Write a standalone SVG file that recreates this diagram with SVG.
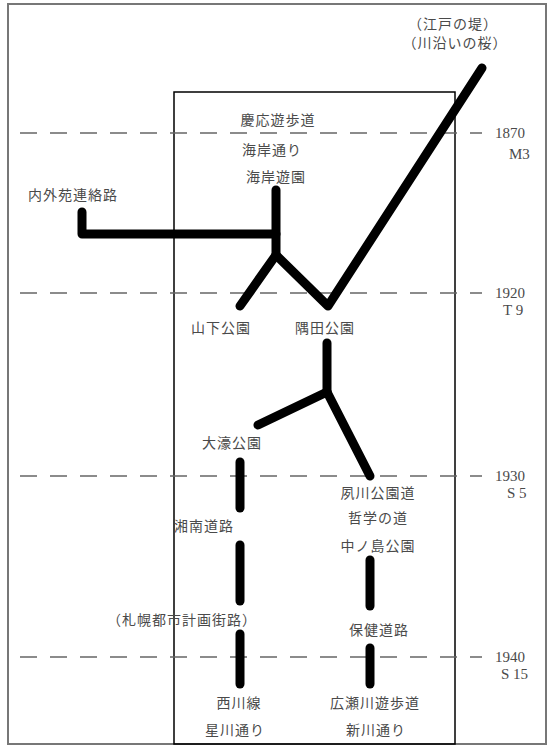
<svg xmlns="http://www.w3.org/2000/svg" width="552" height="751" viewBox="0 0 552 751">
<style>
.lbl{font-family:"Liberation Serif","Noto Sans CJK JP",serif;font-size:14px;fill:#4a4a4a;text-anchor:middle;letter-spacing:1px}
.yr{font-family:"Liberation Serif","Noto Sans CJK JP",serif;font-size:15px;fill:#4a4a4a}
.route{stroke:#000;stroke-width:9;stroke-linecap:round;stroke-linejoin:round;fill:none}
.era{stroke:#666;stroke-width:1.3;stroke-dasharray:17 13;fill:none}
</style>
<rect width="552" height="751" fill="#fff"/>
<rect x="8" y="4" width="538" height="740" fill="none" stroke="#777" stroke-width="2"/>
<rect x="174" y="92" width="281" height="652" fill="none" stroke="#000" stroke-width="1.5"/>
<g id="eras">
<line class="era" x1="20" y1="133" x2="482" y2="133"/>
<line class="era" x1="20" y1="293" x2="482" y2="293"/>
<line class="era" x1="20" y1="476" x2="482" y2="476"/>
<line class="era" x1="20" y1="657" x2="482" y2="657"/>
<text class="yr" x="495" y="138">1870</text><text class="yr" x="509" y="159">M3</text>
<text class="yr" x="495" y="298">1920</text><text class="yr" x="503" y="315">T 9</text>
<text class="yr" x="495" y="481">1930</text><text class="yr" x="507" y="498">S 5</text>
<text class="yr" x="495" y="662">1940</text><text class="yr" x="501" y="679">S 15</text>
</g>
<g id="connectors">
<polyline class="route" points="82,212 82,234 276,234"/>
<line class="route" x1="276" y1="190" x2="276" y2="255"/>
<line class="route" x1="276" y1="255" x2="240" y2="306"/>
<polyline class="route" points="276,255 328,306 482,68"/>
<line class="route" x1="327" y1="343" x2="327" y2="392"/>
<line class="route" x1="327" y1="392" x2="258" y2="425"/>
<line class="route" x1="327" y1="392" x2="370" y2="476"/>
<line class="route" x1="240" y1="462" x2="240" y2="508"/>
<line class="route" x1="240" y1="545" x2="240" y2="601"/>
<line class="route" x1="240" y1="634" x2="240" y2="684"/>
<line class="route" x1="370" y1="560" x2="370" y2="606"/>
<line class="route" x1="370" y1="648" x2="370" y2="684"/>
</g>
<g id="n-edo"><text class="lbl" x="453" y="29">（江戸の堤）</text><text class="lbl" x="455" y="48">（川沿いの桜）</text></g>
<g id="n-keio"><text class="lbl" x="278" y="125">慶応遊歩道</text></g>
<g id="n-kaigan"><text class="lbl" x="272" y="155">海岸通り</text><text class="lbl" x="276" y="182">海岸遊園</text></g>
<g id="n-naigai"><text class="lbl" x="73" y="200">内外苑連絡路</text></g>
<g id="n-yamashita"><text class="lbl" x="221" y="333">山下公園</text></g>
<g id="n-sumida"><text class="lbl" x="325" y="333">隅田公園</text></g>
<g id="n-ohori"><text class="lbl" x="232" y="448">大濠公園</text></g>
<g id="n-shukugawa"><text class="lbl" x="378" y="498">夙川公園道</text><text class="lbl" x="378" y="523">哲学の道</text><text class="lbl" x="378" y="551">中ノ島公園</text></g>
<g id="n-shonan"><text class="lbl" x="204" y="531">湘南道路</text></g>
<g id="n-sapporo"><text class="lbl" x="182" y="625">（札幌都市計画街路）</text></g>
<g id="n-hoken"><text class="lbl" x="379" y="635">保健道路</text></g>
<g id="n-nishikawa"><text class="lbl" x="239" y="708">西川線</text><text class="lbl" x="235" y="735">星川通り</text></g>
<g id="n-hirose"><text class="lbl" x="375" y="708">広瀬川遊歩道</text><text class="lbl" x="376" y="735">新川通り</text></g>
</svg>
